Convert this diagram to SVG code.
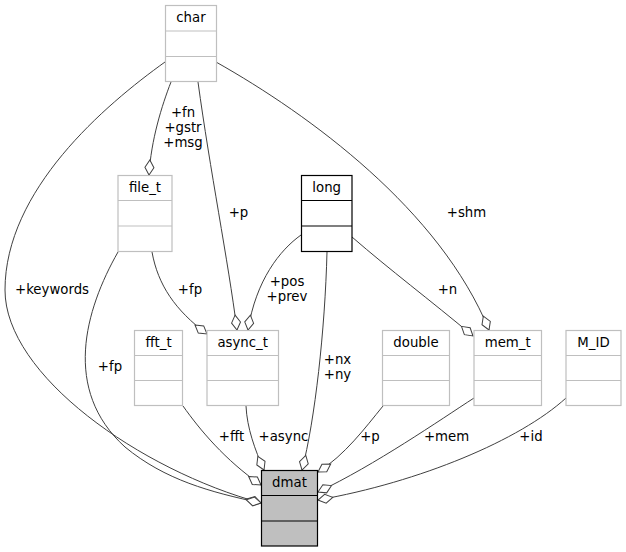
<svg xmlns="http://www.w3.org/2000/svg" width="626" height="552" viewBox="0 0 626 552">
<style>
text{font-family:"DejaVu Sans","Liberation Sans",sans-serif;font-size:13.3px;fill:#000;text-anchor:middle}
.n rect,.n line{fill:#fff;stroke:#bfbfbf;stroke-width:1.2}
.k rect,.k line{fill:#fff;stroke:#000;stroke-width:1.2}
.m rect,.m line{fill:#bfbfbf;stroke:#000;stroke-width:1.2}
.e path{fill:none;stroke:#404040;stroke-width:1;marker-end:url(#od)}
</style>
<defs>
<marker id="od" markerUnits="userSpaceOnUse" markerWidth="18" markerHeight="14" viewBox="0 0 18 14" refX="16" refY="7" orient="auto" overflow="visible">
<path d="M1,7 L8.5,2.5 L16,7 L8.5,11.5 Z" fill="#fff" stroke="#404040" stroke-width="1"/>
</marker>
</defs>
<rect width="626" height="552" fill="#fff"/>
<g id="edges" class="e">
<path d="M165,62 C105,105 5,190 5,290 C5,375 140,470 261,503"/>
<path d="M118,252 C85,310 62,390 125,447 C165,480 210,492 261,503"/>
<path d="M183,406 C200,430 225,460 261,485"/>
<path d="M246,406 C247,428 255,450 264,470"/>
<path d="M327,252 C325,330 315,420 302,470"/>
<path d="M383,406 C365,428 345,455 318,472"/>
<path d="M474,398 C440,420 375,465 318,492"/>
<path d="M566,398 C520,440 420,482 318,500"/>
<path d="M171,82 C162,105 151,140 149,175"/>
<path d="M198,82 C210,170 228,260 237,330"/>
<path d="M301,235 C280,250 256,280 248,330"/>
<path d="M152,252 C158,285 175,310 207,334"/>
<path d="M352,237 C390,270 430,300 473,336"/>
<path d="M216,62 C310,115 440,210 489,330"/>
</g>
<g id="edge-labels">
<text x="52" y="294">+keywords</text>
<text x="110" y="371">+fp</text>
<text x="183" y="117">+fn</text>
<text x="183" y="132">+gstr</text>
<text x="183" y="147">+msg</text>
<text x="238.5" y="217">+p</text>
<text x="466.5" y="217">+shm</text>
<text x="447.5" y="294">+n</text>
<text x="190" y="294">+fp</text>
<text x="287" y="286">+pos</text>
<text x="287" y="301">+prev</text>
<text x="337.5" y="364">+nx</text>
<text x="337.5" y="379">+ny</text>
<text x="231.5" y="441">+fft</text>
<text x="283.5" y="441">+async</text>
<text x="370" y="441">+p</text>
<text x="446.5" y="441">+mem</text>
<text x="531" y="441">+id</text>
</g>
<g id="char" class="n">
<rect x="165.5" y="5.5" width="51" height="76"/>
<line x1="165.5" y1="31" x2="216.5" y2="31"/>
<line x1="165.5" y1="56.5" x2="216.5" y2="56.5"/>
<text x="191" y="22">char</text>
</g>
<g id="file_t" class="n">
<rect x="118" y="175.5" width="54" height="76"/>
<line x1="118" y1="200.5" x2="172" y2="200.5"/>
<line x1="118" y1="226" x2="172" y2="226"/>
<text x="145" y="192">file_t</text>
</g>
<g id="long" class="k">
<rect x="301.5" y="175.5" width="50.5" height="76"/>
<line x1="301.5" y1="200.5" x2="352" y2="200.5"/>
<line x1="301.5" y1="226" x2="352" y2="226"/>
<text x="326.7" y="192">long</text>
</g>
<g id="fft_t" class="n">
<rect x="134.5" y="330.5" width="48" height="75"/>
<line x1="134.5" y1="355.5" x2="182.5" y2="355.5"/>
<line x1="134.5" y1="380.5" x2="182.5" y2="380.5"/>
<text x="158.5" y="347">fft_t</text>
</g>
<g id="async_t" class="n">
<rect x="207" y="330.5" width="71.5" height="75"/>
<line x1="207" y1="355.5" x2="278.5" y2="355.5"/>
<line x1="207" y1="380.5" x2="278.5" y2="380.5"/>
<text x="242.7" y="347">async_t</text>
</g>
<g id="double" class="n">
<rect x="382.5" y="330.5" width="67" height="75"/>
<line x1="382.5" y1="355.5" x2="449.5" y2="355.5"/>
<line x1="382.5" y1="380.5" x2="449.5" y2="380.5"/>
<text x="416" y="347">double</text>
</g>
<g id="mem_t" class="n">
<rect x="474" y="330.5" width="67.5" height="75"/>
<line x1="474" y1="355.5" x2="541.5" y2="355.5"/>
<line x1="474" y1="380.5" x2="541.5" y2="380.5"/>
<text x="507.7" y="347">mem_t</text>
</g>
<g id="M_ID" class="n">
<rect x="566" y="330.5" width="55" height="75"/>
<line x1="566" y1="355.5" x2="621" y2="355.5"/>
<line x1="566" y1="380.5" x2="621" y2="380.5"/>
<text x="593.5" y="347">M_ID</text>
</g>
<g id="dmat" class="m">
<rect x="261.5" y="470.5" width="56" height="75.5"/>
<line x1="261.5" y1="495.5" x2="317.5" y2="495.5"/>
<line x1="261.5" y1="521" x2="317.5" y2="521"/>
<text x="289.5" y="487">dmat</text>
</g>
</svg>
